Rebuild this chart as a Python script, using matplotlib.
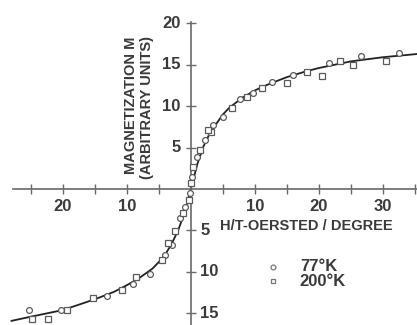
import matplotlib
matplotlib.use('Agg')
import matplotlib.pyplot as plt

# curve (H/T, M)
curva_x = [-28, -25, -20, -15, -12, -10, -8, -6, -5, -4, -3, -2, -1, 0,
           1, 2, 3, 4, 5, 6, 8, 10, 12, 15, 18, 20, 25, 30, 35.5]
curva_m = [-15.9, -15.4, -14.6, -13.3, -12.4, -11.6, -10.7, -9.6, -8.8, -7.9, -6.6, -5.0, -2.9, 0.0,
           3.0, 5.2, 6.8, 7.9, 9.0, 9.8, 11.0, 11.9, 12.6, 13.5, 14.2, 14.6, 15.4, 15.9, 16.3]

# 77 K points
p77_x = [-25.3, -20.2, -13.1, -9.1, -6.4, -4.1, -3.0, -1.7, -0.9, -0.1, 0.2, 0.9, 2.2, 3.5,
         5.0, 7.6, 9.7, 12.6, 16.0, 21.5, 26.6, 32.5]
p77_m = [-14.6, -14.6, -12.9, -11.4, -10.2, -8.0, -6.8, -3.5, -2.2, -0.5, 1.5, 3.9, 5.9, 7.7,
         8.7, 10.8, 11.6, 12.9, 13.8, 15.2, 16.1, 16.4]

# 200 K points
p200_x = [-24.8, -22.3, -19.4, -15.3, -10.8, -8.6, -4.5, -3.6, -2.5, -1.2, -0.3, 0.0, 0.3, 1.4,
          3.1, 2.7, 6.4, 8.7, 11.1, 15.0, 18.1, 20.4, 23.3, 25.3, 30.5]
p200_m = [-15.7, -15.7, -14.6, -13.2, -12.2, -10.6, -8.6, -6.5, -5.1, -2.9, -1.3, 0.7, 2.7, 4.7,
          6.9, 7.1, 9.8, 11.1, 12.2, 12.8, 14.1, 13.6, 15.5, 15.0, 15.4]

ytick_pos = [20, 15, 10, 5]
ytick_neg = [-5, -10, -15]
xtick_lab = [-20, -10, 10, 20, 30]

fonte = ['Liberation Sans', 'DejaVu Sans']
cor_eixo = '#6a6a6a'
cor_texto = '#3a3a3a'

fig = plt.figure(figsize=(4.17, 3.25), dpi=100)
ax = fig.add_axes([0, 0, 1, 1])
ax.set_xlim(-29.8, 35.3)
ax.set_ylim(-16.4, 22.8)

for lado in ['top', 'right']:
    ax.spines[lado].set_visible(False)
ax.spines['left'].set_position('zero')
ax.spines['bottom'].set_position('zero')
ax.spines['left'].set_bounds(-17, 20.2)
ax.spines['bottom'].set_bounds(-27.8, 36)
for lado in ['left', 'bottom']:
    ax.spines[lado].set_color(cor_eixo)
    ax.spines[lado].set_linewidth(1.2)

ax.set_xticks([-25, -20, -15, -10, -5, 5, 10, 15, 20, 25, 30, 35])
ax.set_yticks(ytick_pos + ytick_neg)
ax.tick_params(direction='inout', length=7, width=1.0, color=cor_eixo,
               labelleft=False, labelbottom=False)

ax.plot(curva_x, curva_m, color='#222222', lw=1.3, zorder=2)
ax.plot(p77_x, p77_m, 'o', ms=4.2, mfc='white', mec='#5a5a5a', mew=0.9, zorder=3)
ax.plot(p200_x, p200_m, 's', ms=4.0, mfc='white', mec='#5a5a5a', mew=0.9, zorder=3)

kw = dict(family=fonte, fontweight='bold', color=cor_texto, fontsize=10.5)
kw_tick = dict(kw, fontsize=12)
for v in ytick_pos:
    ax.text(-1.6, v, str(v), ha='right', va='center', **kw_tick)
for v in ytick_neg:
    ax.text(1.5, v, str(-v), ha='left', va='center', **kw_tick)
for v in xtick_lab:
    ax.text(v, -1.2, str(abs(v)), ha='center', va='top', **kw_tick)

ax.text(-9.4, 18.4, 'MAGNETIZATION M', rotation=90, ha='center', va='top', **kw)
ax.text(-6.9, 18.4, '(ARBITRARY UNITS)', rotation=90, ha='center', va='top', **kw)
ax.text(4.5, -4.4, 'H/T-OERSTED / DEGREE', ha='left', va='center', **kw)

# legenda
ax.plot([12.8], [-9.4], 'o', ms=3.5, mfc='white', mec='#777777', mew=0.9)
ax.plot([12.8], [-11.1], 's', ms=3.3, mfc='white', mec='#777777', mew=0.9)
ax.text(17, -9.4, '77°K', ha='left', va='center', **kw_tick)
ax.text(17, -11.1, '200°K', ha='left', va='center', **kw_tick)

fig.savefig('out.png', dpi=100)
